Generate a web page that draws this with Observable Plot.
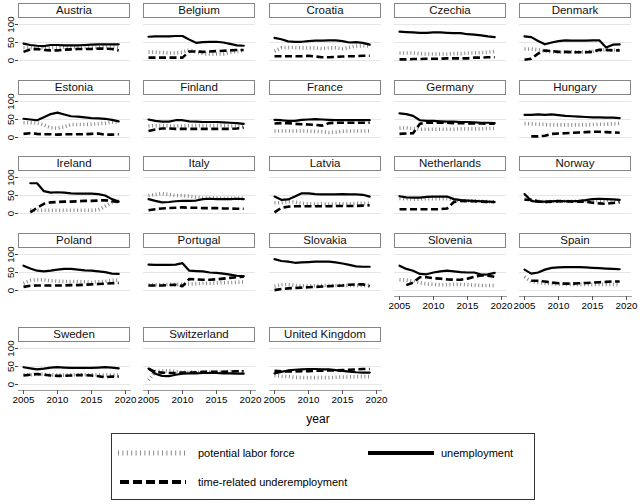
<!DOCTYPE html>
<html><head><meta charset="utf-8">
<script src="https://cdn.jsdelivr.net/npm/d3@7"></script>
<script src="https://cdn.jsdelivr.net/npm/@observablehq/plot@0.6"></script>
<style>
html,body{margin:0;padding:0;background:#fff;}
#root{position:relative;width:640px;height:504px;overflow:hidden;font-family:"Liberation Sans",Arial,sans-serif;color:#000;}
.strip{position:absolute;box-sizing:border-box;border:1px solid #858585;background:#fff;font-size:11.5px;line-height:13px;text-align:center;color:#111;white-space:nowrap;}
.panel{position:absolute;}
.lbl{position:absolute;white-space:nowrap;}
#legend{position:absolute;left:111px;top:433px;width:424px;height:67px;box-sizing:border-box;border:1px solid #333;}
</style></head><body><div id="root"></div>
<script>
const years = [2005,2006,2007,2008,2009,2010,2011,2012,2013,2014,2015,2016,2017,2018,2019];
const countries = ["Austria","Belgium","Croatia","Czechia","Denmark","Estonia","Finland","France","Germany","Hungary","Ireland","Italy","Latvia","Netherlands","Norway","Poland","Portugal","Slovakia","Slovenia","Spain","Sweden","Switzerland","United Kingdom"];
const xTicks = [2005,2010,2015,2020];
const yTicks = [0,50,100];

// unemployment (solid)
const unemployment = [
  [47,43,41,40,43,43,42,42,42,43,44,45,45,45,45],
  [66,67,67,67,68,68,58,49,51,52,52,50,46,42,41],
  [63,59,53,52,52,54,55,55,56,56,54,50,51,49,44],
  [80,79,78,77,77,78,78,77,76,76,73,72,70,67,65],
  [67,65,54,45,50,54,56,55,55,55,56,56,36,44,45],
  [52,50,48,56,65,69,64,59,58,56,54,53,52,49,45],
  [50,46,44,44,48,48,45,44,43,43,43,42,41,40,38],
  [49,48,46,46,49,50,51,50,49,48,48,48,48,48,48],
  [67,65,60,48,46,46,45,44,44,43,43,42,41,41,40],
  [63,63,64,63,64,62,60,59,58,57,56,56,55,55,54],
  [null,84,84,62,58,59,58,56,55,55,55,54,50,40,33],
  [40,35,31,32,34,35,35,36,40,41,40,40,40,41,40],
  [47,38,39,47,56,56,54,53,53,53,54,53,53,52,47],
  [48,45,44,44,46,47,47,47,40,37,36,35,34,33,32],
  [54,35,32,33,34,35,34,34,35,37,40,41,40,39,38],
  [69,61,55,53,55,58,60,60,58,56,55,53,51,47,46],
  [72,71,71,71,72,76,55,54,53,50,49,47,44,41,40],
  [87,82,80,77,78,79,80,80,80,78,75,71,67,66,66],
  [69,60,55,46,45,50,53,55,53,51,50,50,44,45,49],
  [58,47,50,58,63,64,65,65,65,64,63,62,61,60,59],
  [48,45,42,44,47,48,47,46,46,46,46,47,48,47,45],
  [44,30,24,23,27,30,31,31,32,32,32,31,31,30,30],
  [31,35,39,41,42,43,43,42,42,40,38,36,34,33,33]
];
// time-related underemployment (dashed)
const underemployment = [
  [24,31,32,29,28,28,30,31,32,32,32,33,33,32,28],
  [8,8,8,8,8,8,25,25,24,25,26,27,28,29,29],
  [12,12,12,12,12,13,11,9,9,10,11,12,12,13,13],
  [3,3,4,4,5,5,5,6,6,6,6,8,8,9,9],
  [2,5,19,28,26,24,24,23,23,23,24,30,29,28,28],
  [10,12,10,9,9,8,9,9,9,9,10,11,8,8,9],
  [18,22,25,25,24,24,24,24,24,24,24,24,24,25,27],
  [39,40,40,38,37,36,35,33,40,41,41,41,41,41,41],
  [10,11,12,38,41,41,41,41,40,40,39,39,39,38,38],
  [null,3,3,5,10,11,12,13,14,15,16,16,15,14,13],
  [null,3,16,27,31,32,33,33,34,35,35,36,37,34,32],
  [9,12,14,15,16,17,16,16,15,15,15,14,14,13,13],
  [3,16,19,20,20,20,20,20,20,21,21,21,21,22,23],
  [12,12,12,12,12,12,12,14,32,35,34,34,33,32,32],
  [38,38,34,32,33,34,34,33,33,33,30,28,27,29,31],
  [10,13,14,14,14,14,14,15,15,16,17,18,19,20,21],
  [14,14,14,15,16,12,32,31,30,30,31,33,35,37,38],
  [1,4,6,7,8,9,10,11,12,13,14,16,17,17,12],
  [null,15,22,37,37,34,33,31,30,30,33,38,42,41,38],
  [null,27,27,25,22,20,19,19,20,21,22,23,24,25,25],
  [25,27,29,27,25,24,24,25,26,26,25,23,20,22,22],
  [44,35,33,32,32,33,33,34,35,35,35,35,36,37,37],
  [38,37,36,36,37,37,38,38,39,39,40,41,42,43,43]
];
// potential labor force (dotted)
const potentialLaborForce = [
  [36,36,35,34,35,36,37,37,36,37,37,37,38,37,36],
  [24,23,22,21,21,23,29,24,19,18,18,18,22,26,28],
  [26,35,36,36,35,35,35,33,35,35,33,36,40,41,40],
  [21,21,21,19,18,18,18,18,19,19,21,21,22,23,25],
  [32,32,30,27,24,23,23,24,24,24,25,28,30,29,29],
  [41,41,40,35,27,26,30,36,36,36,37,38,40,43,43],
  [32,33,33,32,32,32,33,33,33,33,33,33,32,32,32],
  [18,18,18,18,18,18,17,16,14,15,17,18,18,18,18],
  [26,27,25,23,23,23,23,23,23,24,24,24,24,25,26],
  [39,38,37,36,35,35,35,35,35,35,36,37,37,38,39],
  [null,10,9,9,9,9,9,9,9,9,9,10,20,30,36],
  [50,53,55,53,50,50,48,45,43,43,43,42,42,42,42],
  [30,30,33,32,28,27,26,26,26,27,27,27,28,28,28],
  [42,41,40,40,41,41,41,41,38,36,35,35,34,33,32],
  [40,36,34,33,33,34,34,34,34,35,36,36,37,36,36],
  [20,28,30,30,27,26,25,25,25,24,23,24,25,28,29],
  [16,16,16,17,17,17,18,19,20,20,21,22,22,23,24],
  [12,16,17,14,13,13,13,14,14,14,14,14,14,14,14],
  [30,29,26,21,18,17,16,16,17,17,16,15,14,14,14],
  [38,25,22,20,19,18,17,17,17,17,17,17,17,17,16],
  [27,27,28,28,27,26,26,27,27,27,27,27,26,26,26],
  [12,36,38,38,36,34,34,34,34,34,34,35,36,36,36],
  [25,23,22,20,19,19,19,19,19,20,21,21,22,22,22]
];

const root = document.getElementById("root");
const rowTops = [3, 80, 156, 233, 327];
const colLefts = [18, 143, 269, 394, 519];
const W = 112, STRIP = 15, ML = 22;
const FONT = "'Liberation Sans', Arial, sans-serif";

countries.forEach((name, i) => {
  const r = Math.floor(i / 5), c = i % 5;
  const left = colLefts[c], top = rowTops[r];
  const strip = document.createElement("div");
  strip.className = "strip";
  strip.style.left = left + "px"; strip.style.top = top + "px";
  strip.style.width = W + "px"; strip.style.height = STRIP + "px";
  strip.textContent = name;
  root.appendChild(strip);

  const rows = [];
  years.forEach((yr, j) => {
    rows.push({year: yr, series: "P", value: potentialLaborForce[i][j]});
    rows.push({year: yr, series: "U", value: unemployment[i][j]});
    rows.push({year: yr, series: "T", value: underemployment[i][j]});
  });
  const showY = c === 0;
  const showX = i + 5 >= countries.length;
  const H = showX ? 75 : 58;
  const marks = [
    Plot.gridY(yTicks, {stroke: "#e6e6e6", strokeOpacity: 1, strokeWidth: 1}),
    Plot.line(rows, {filter: d => d.series === "P" && d.value != null, x: "year", y: "value", stroke: "#8a8a8a", strokeWidth: 3.6, strokeDasharray: "1 2.6", strokeLinecap: "butt"}),
    Plot.line(rows, {filter: d => d.series === "U", x: "year", y: "value", stroke: "#000", strokeWidth: 2.2}),
    Plot.line(rows, {filter: d => d.series === "T", x: "year", y: "value", stroke: "#000", strokeWidth: 2.6, strokeDasharray: "7 3.5", strokeLinecap: "butt"})
  ];
  if (showY) marks.push(Plot.axisY(yTicks, {anchor: "left", tickRotate: -90, tickSize: 3, tickPadding: 2, label: null, stroke: "#444", fill: "#000"}));
  if (showX) {
    marks.push(Plot.frame({anchor: "bottom", stroke: "#9a9a9a"}));
    marks.push(Plot.axisX(xTicks, {anchor: "bottom", tickSize: 4, tickPadding: 2, tickFormat: d => String(d), label: null, stroke: "#555", fill: "#000"}));
  }
  const svg = Plot.plot({
    width: ML + W, height: H,
    marginLeft: ML, marginRight: 0, marginTop: 6, marginBottom: H - 48,
    x: {domain: [2005, 2020], range: [ML + 5, ML + 107], axis: null},
    y: {domain: [0, 100], range: [42, 6], axis: null},
    style: {fontFamily: FONT, fontSize: "9.8px", background: "transparent", overflow: "visible", color: "#000"},
    marks
  });
  svg.classList.add("panel");
  svg.style.position = "absolute";
  svg.style.left = (left - ML) + "px";
  svg.style.top = (top + STRIP) + "px";
  root.appendChild(svg);
});

// x-axis title
const yearLbl = document.createElement("div");
yearLbl.className = "lbl";
yearLbl.style.cssText = "left:298px;top:412px;width:40px;text-align:center;font-size:12px;";
yearLbl.textContent = "year";
root.appendChild(yearLbl);

// legend
const legend = document.createElement("div");
legend.id = "legend";
legend.innerHTML = `
<svg width="422" height="65" style="position:absolute;left:0;top:0;overflow:visible">
  <line x1="6" x2="75" y1="19" y2="19" stroke="#8a8a8a" stroke-width="5" stroke-dasharray="1 3.4"/>
  <line x1="256" x2="322" y1="19" y2="19" stroke="#000" stroke-width="4"/>
  <line x1="8" x2="74" y1="48" y2="48" stroke="#000" stroke-width="4" stroke-dasharray="9 4"/>
  <text x="86" y="23" font-size="11" font-family="${FONT}">potential labor force</text>
  <text x="329" y="23" font-size="11" font-family="${FONT}">unemployment</text>
  <text x="86" y="52" font-size="11" font-family="${FONT}">time-related underemployment</text>
</svg>`;
root.appendChild(legend);
</script>
</body></html>
